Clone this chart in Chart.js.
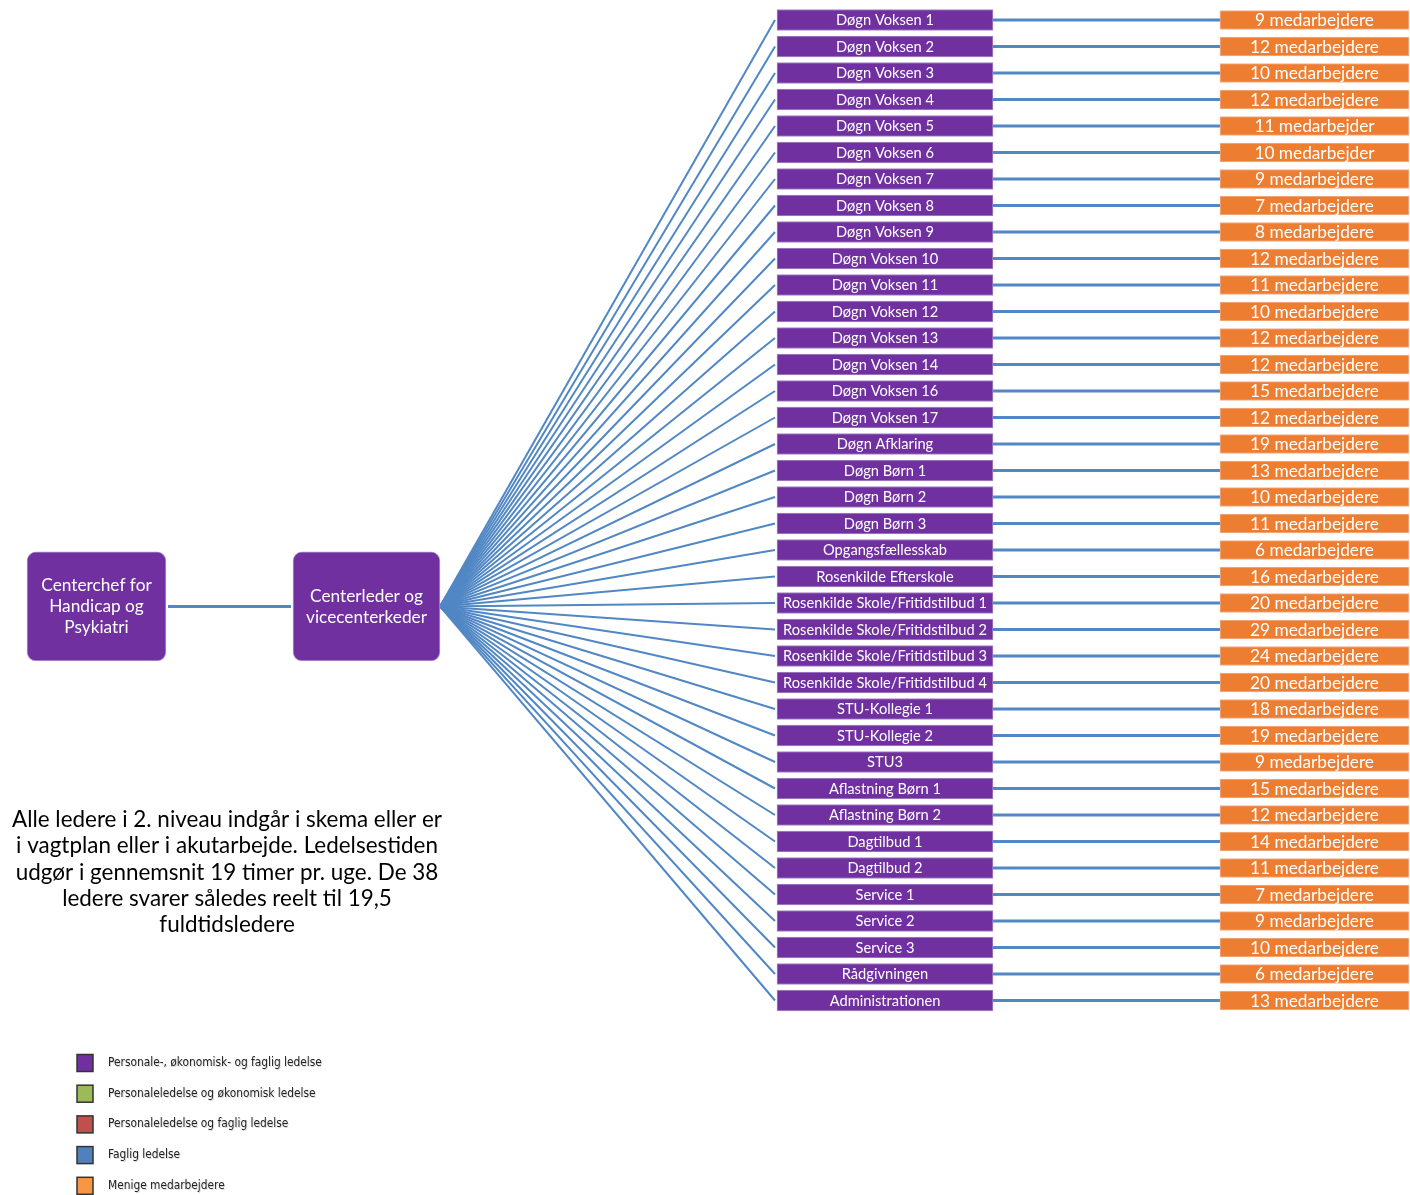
<!DOCTYPE html>
<html>
<head>
<meta charset="utf-8">
<script src="https://cdn.jsdelivr.net/npm/chart.js@4/dist/chart.umd.min.js"></script>
<style>
  html, body { margin: 0; padding: 0; background: #ffffff; }
  #wrap { width: 1410px; height: 1195px; position: relative; }
</style>
</head>
<body>
<div id="wrap"><canvas id="c" width="1410" height="1195"></canvas></div>
<script>
// ---------------- DATA ----------------
const units = [
  "Døgn Voksen 1", "Døgn Voksen 2", "Døgn Voksen 3", "Døgn Voksen 4", "Døgn Voksen 5",
  "Døgn Voksen 6", "Døgn Voksen 7", "Døgn Voksen 8", "Døgn Voksen 9", "Døgn Voksen 10",
  "Døgn Voksen 11", "Døgn Voksen 12", "Døgn Voksen 13", "Døgn Voksen 14", "Døgn Voksen 16",
  "Døgn Voksen 17", "Døgn Afklaring", "Døgn Børn 1", "Døgn Børn 2", "Døgn Børn 3",
  "Opgangsfællesskab", "Rosenkilde Efterskole", "Rosenkilde Skole/Fritidstilbud 1",
  "Rosenkilde Skole/Fritidstilbud 2", "Rosenkilde Skole/Fritidstilbud 3",
  "Rosenkilde Skole/Fritidstilbud 4", "STU-Kollegie 1", "STU-Kollegie 2", "STU3",
  "Aflastning Børn 1", "Aflastning Børn 2", "Dagtilbud 1", "Dagtilbud 2",
  "Service 1", "Service 2", "Service 3", "Rådgivningen", "Administrationen"
];
const staffCounts = [9, 12, 10, 12, 11, 10, 9, 7, 8, 12, 11, 10, 12, 12, 15, 12, 19, 13, 10, 11,
  6, 16, 20, 29, 24, 20, 18, 19, 9, 15, 12, 14, 11, 7, 9, 10, 6, 13];
const staffWordPlural = "medarbejdere";
const staffWordSingular = "medarbejder";
const singularRows = [4, 5];           // rows spelled "medarbejder" in the original
const topLevel = [
  ["Centerchef for", "Handicap og", "Psykiatri"],
  ["Centerleder og", "vicecenterkeder"]
];
const noteLines = [
  "Alle ledere i 2. niveau indgår i skema eller er",
  "i vagtplan eller i akutarbejde. Ledelsestiden",
  "udgør i gennemsnit 19 timer pr. uge. De 38",
  "ledere svarer således reelt til 19,5",
  "fuldtidsledere"
];
const legendLabels = [
  "Personale-, økonomisk- og faglig ledelse",
  "Personaleledelse og økonomisk ledelse",
  "Personaleledelse og faglig ledelse",
  "Faglig ledelse",
  "Menige medarbejdere"
];
const legendColors = ["#7030A0", "#9BBB59", "#C0504D", "#4F81BD", "#F79646"];

const staffLabels = staffCounts.map((n, i) =>
  n + " " + (singularRows.includes(i) ? staffWordSingular : staffWordPlural));

// ---------------- LAYOUT / STYLE ----------------
const L = {
  rowPitch: 26.5, row0: 20,
  unitX: [777, 993], staffX: [1220, 1409],
  topBoxesX: [[27, 166], [293, 440]], topRow: 22.13, topH: 109,
  fanX0: 440, fanX1: 775,
  purple: "#7030A0", orange: "#ED7D31", lineBlue: "#5087C4",
  font: "Lato"
};
const yMin = -L.row0 / L.rowPitch;
const yMax = yMin + 1195 / L.rowPitch;

// ---------------- DATASETS ----------------
const datasets = [];

units.forEach((u, i) => {
  datasets.push({
    type: 'line', order: 5,
    data: [{ x: L.fanX0, y: L.topRow }, { x: L.fanX1, y: i }],
    borderColor: L.lineBlue, borderWidth: 2, pointRadius: 0, fill: false, tension: 0
  });
  datasets.push({
    type: 'line', order: 5,
    data: [{ x: L.unitX[1], y: i }, { x: L.staffX[0], y: i }],
    borderColor: L.lineBlue, borderWidth: 3, pointRadius: 0, fill: false, tension: 0
  });
});
datasets.push({
  type: 'line', order: 5,
  data: [{ x: L.topBoxesX[0][1] + 2, y: L.topRow }, { x: L.topBoxesX[1][0] - 2, y: L.topRow }],
  borderColor: L.lineBlue, borderWidth: 3, pointRadius: 0, fill: false, tension: 0
});

datasets.push({
  type: 'bar', order: 1, grouped: false, label: 'units', kind: 'units',
  data: units.map((u, i) => ({ x: L.unitX, y: i })),
  backgroundColor: L.purple, borderColor: "#A58BC4", borderWidth: 1, borderSkipped: false,
  barThickness: 21
});
datasets.push({
  type: 'bar', order: 1, grouped: false, label: 'staff', kind: 'staff',
  data: staffCounts.map((n, i) => ({ x: L.staffX, y: i })),
  backgroundColor: L.orange, borderColor: "#F3B089", borderWidth: 1, borderSkipped: false,
  barThickness: 19
});
datasets.push({
  type: 'bar', order: 1, grouped: false, label: 'top', kind: 'top',
  data: topLevel.map((t, i) => ({ x: L.topBoxesX[i], y: L.topRow })),
  backgroundColor: L.purple, borderColor: "#B59BD0", borderWidth: 1, borderSkipped: false,
  borderRadius: 9, barThickness: L.topH
});

function fitSize(ctx, text, weight, family, target) {
  ctx.font = weight + " 100px " + family;
  return 100 * target / ctx.measureText(text).width;
}

const labelPlugin = {
  id: 'labels',
  afterDatasetsDraw(chart) {
    const ctx = chart.ctx;
    ctx.save();
    ctx.textAlign = 'center';
    ctx.textBaseline = 'middle';
    const unitSize = fitSize(ctx, "Rosenkilde Skole/Fritidstilbud 1", "", L.font, 204);
    const staffSize = fitSize(ctx, "12 medarbejdere", "", L.font, 129);
    const topSize = fitSize(ctx, "vicecenterkeder", "", L.font, 121);
    chart.data.datasets.forEach((ds, di) => {
      if (!ds.kind) return;
      const meta = chart.getDatasetMeta(di);
      meta.data.forEach((el, i) => {
        const cx = (el.x + el.base) / 2;
        const cy = el.y;
        ctx.fillStyle = "#FFFFFF";
        if (ds.kind === 'units') {
          ctx.font = unitSize.toFixed(2) + "px " + L.font;
          ctx.fillText(units[i], cx, cy + 0.5);
        } else if (ds.kind === 'staff') {
          ctx.font = staffSize.toFixed(2) + "px " + L.font;
          ctx.fillText(staffLabels[i], cx, cy + 0.5);
        } else if (ds.kind === 'top') {
          ctx.font = topSize.toFixed(2) + "px " + L.font;
          const lines = topLevel[i];
          const lh = 21;
          lines.forEach((t, k) => {
            ctx.fillText(t, cx, cy + (k - (lines.length - 1) / 2) * lh);
          });
        }
      });
    });

    const noteSize = fitSize(ctx, noteLines[0], "", L.font, 430);
    ctx.font = noteSize.toFixed(2) + "px " + L.font;
    ctx.fillStyle = "#000000";
    noteLines.forEach((t, k) => ctx.fillText(t, 227, 820 + k * 26.2));

    const legFam = "'DejaVu Sans Condensed', 'DejaVu Sans'";
    const legSize = fitSize(ctx, legendLabels[0], "500", legFam, 214);
    legendLabels.forEach((t, k) => {
      const yc = 1063 + k * 30.7;
      ctx.fillStyle = legendColors[k];
      ctx.fillRect(77, yc - 8.5, 16, 17);
      ctx.strokeStyle = "#333333";
      ctx.lineWidth = 1.5;
      ctx.strokeRect(77, yc - 8.5, 16, 17);
      ctx.font = "500 " + legSize.toFixed(2) + "px " + legFam;
      ctx.textAlign = 'left';
      ctx.fillStyle = "rgba(0,0,0,0.15)";
      ctx.fillText(t, 109, yc + 1);
      ctx.fillStyle = "#222222";
      ctx.fillText(t, 108, yc);
    });
    ctx.restore();
  }
};

new Chart(document.getElementById('c'), {
  type: 'bar',
  data: { datasets },
  options: {
    indexAxis: 'y',
    responsive: false,
    animation: false,
    devicePixelRatio: 1,
    layout: { padding: 0 },
    plugins: { legend: { display: false }, tooltip: { enabled: false } },
    scales: {
      x: { type: 'linear', min: 0, max: 1410, display: false },
      y: { type: 'linear', min: yMin, max: yMax, reverse: true, display: false, offset: false }
    }
  },
  plugins: [labelPlugin]
});
</script>
</body>
</html>
